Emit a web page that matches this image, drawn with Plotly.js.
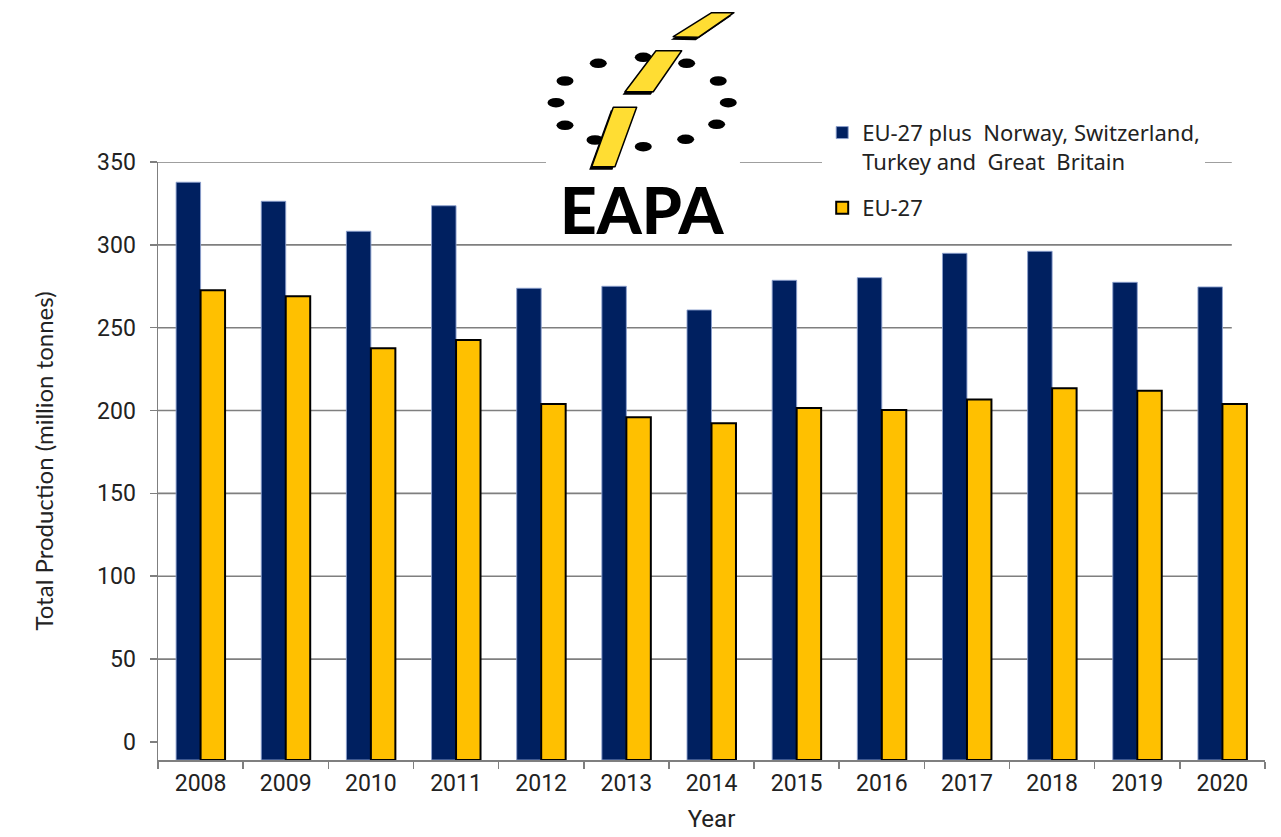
<!DOCTYPE html>
<html>
<head>
<meta charset="utf-8">
<script src="https://cdn.plot.ly/plotly-3.0.1.min.js"></script>
<style>html,body{margin:0;padding:0;background:#fff;}#chart{width:1281px;height:837px;}</style>
</head>
<body>
<div id="chart"></div>
<script>
// ---- data ----
const years = ["2008","2009","2010","2011","2012","2013","2014","2015","2016","2017","2018","2019","2020"];
const euPlus = [337.8, 326.3, 308.2, 323.6, 273.8, 275.0, 260.7, 278.6, 280.2, 294.9, 296.1, 277.4, 274.6];
const eu27 = [272.6, 269.0, 237.6, 242.6, 203.9, 196.0, 192.4, 201.6, 200.4, 206.6, 213.5, 211.9, 204.0];
const seriesNames = ["EU-27 plus  Norway, Switzerland,<br>Turkey and  Great  Britain", "EU-27"];
const yTicks = [0, 50, 100, 150, 200, 250, 300, 350];
const gridValues = [50, 100, 150, 200, 250, 300, 350];
const axisFloor = -10.9; // the category axis sits a little below zero, bars run down to it

const navy = "#002060";
const gold = "#FFC000";
const tickFont = {family: "Roboto, 'DejaVu Sans', sans-serif", size: 23, color: "#222222"};

const traces = [
  {
    type: "bar", name: seriesNames[0], x: years,
    base: axisFloor, y: euPlus.map(v => v - axisFloor), customdata: euPlus,
    hovertemplate: "%{x}: %{customdata}<extra></extra>",
    marker: {color: navy, line: {color: "rgba(140,160,205,0.9)", width: 1}},
    legendgroup: "a"
  },
  {
    type: "bar", name: seriesNames[1], x: years,
    base: axisFloor, y: eu27.map(v => v - axisFloor), customdata: eu27,
    hovertemplate: "%{x}: %{customdata}<extra></extra>",
    marker: {color: gold, line: {color: "#000000", width: 2}},
    legendgroup: "b"
  }
];

// logo (graphic part only; the word EAPA is real text below)
const dots = [[52.3,55.3],[97.3,49.3],[140.7,55.3],[19,73],[172.3,73],[10,94.7],[182.3,94.7],[19,117.3],[170.7,116.3],[49,132],[97.3,138.7],[139.7,131.3]];
const stripes = [
  [[165.7,4.7],[188,4.7],[152.3,29.3],[127.3,28.7]],
  [[110,42.7],[135.7,42.7],[107.3,83.7],[79,83.7]],
  [[67.3,99.3],[90.7,99.3],[69,158.7],[45.7,158.7]]
];
let svg = '<svg xmlns="http://www.w3.org/2000/svg" width="194" height="234" viewBox="0 0 194 234" preserveAspectRatio="none">';
svg += '<rect x="0" y="0" width="194" height="234" fill="#ffffff"/>';
dots.forEach(d => { svg += '<ellipse cx="' + d[0] + '" cy="' + d[1] + '" rx="8.5" ry="4.8" fill="#000"/>'; });
stripes.forEach(s => {
  const sh = s.map(p => (p[0] - 2.5) + ',' + (p[1] + 3)).join(' ');
  svg += '<polygon points="' + sh + '" fill="#000"/>';
});
stripes.forEach(s => {
  const pts = s.map(p => p[0] + ',' + p[1]).join(' ');
  svg += '<polygon points="' + pts + '" fill="#FFDD33" stroke="#000" stroke-width="1.5" stroke-linejoin="round"/>';
});
svg += '</svg>';
const logoUri = "data:image/svg+xml;charset=utf-8," + encodeURIComponent(svg);

const shapes = gridValues.map(v => ({
  type: "line", xref: "paper", yref: "y", x0: 0, x1: 0.97, y0: v, y1: v,
  line: {color: "#7f7f7f", width: 1.6}, layer: "below"
}));

const layout = {
  width: 1281, height: 837, autosize: false,
  margin: {l: 158, r: 16, t: 162, b: 77, pad: 0},
  paper_bgcolor: "#ffffff", plot_bgcolor: "#ffffff",
  barmode: "group", bargap: 0.425, bargroupgap: 0,
  showlegend: true,
  legend: {
    x: 0.6, xanchor: "left", y: 1.084, yanchor: "top",
    bgcolor: "#ffffff", borderwidth: 0,
    font: {family: "'Noto Sans', Roboto, sans-serif", size: 22, color: "#222222"},
    valign: "top", tracegroupgap: 15, traceorder: "grouped"
  },
  xaxis: {
    type: "category", tickson: "boundaries", ticks: "outside", ticklen: 7,
    tickwidth: 1.5, tickcolor: "#7f7f7f",
    showline: true, linecolor: "#7f7f7f", linewidth: 1.5,
    showgrid: false, tickfont: tickFont, fixedrange: true, ticklabelstandoff: 2,
    title: {text: "Year", font: {family: "Roboto, 'DejaVu Sans', sans-serif", size: 24, color: "#222222"}, standoff: 14}
  },
  yaxis: {
    range: [axisFloor, 350], tickvals: yTicks, ticktext: yTicks.map(String),
    ticks: "outside", ticklen: 7, tickwidth: 1.5, tickcolor: "#7f7f7f",
    showline: true, linecolor: "#7f7f7f", linewidth: 1.5,
    showgrid: false, zeroline: false, tickfont: tickFont, ticklabelstandoff: 9,
    fixedrange: true,
    title: {text: "Total Production (million tonnes)", font: {family: "Lato, 'Open Sans', sans-serif", size: 24, color: "#222222"}, standoff: 36}
  },
  shapes: shapes,
  images: [{
    source: logoUri, xref: "paper", yref: "paper",
    x: 0.3505, y: 1.2575, sizex: 0.1752, sizey: 0.3913,
    xanchor: "left", yanchor: "top", sizing: "stretch", layer: "above"
  }],
  annotations: [{
    text: "EAPA", xref: "paper", yref: "paper", x: 0.4377, y: 0.921,
    xanchor: "center", yanchor: "middle", showarrow: false,
    font: {family: "Lato, 'DejaVu Sans', sans-serif", size: 64, color: "#000000", weight: 900}
  }]
};

Plotly.newPlot("chart", traces, layout, {displayModeBar: false, staticPlot: true});
</script>
</body>
</html>
